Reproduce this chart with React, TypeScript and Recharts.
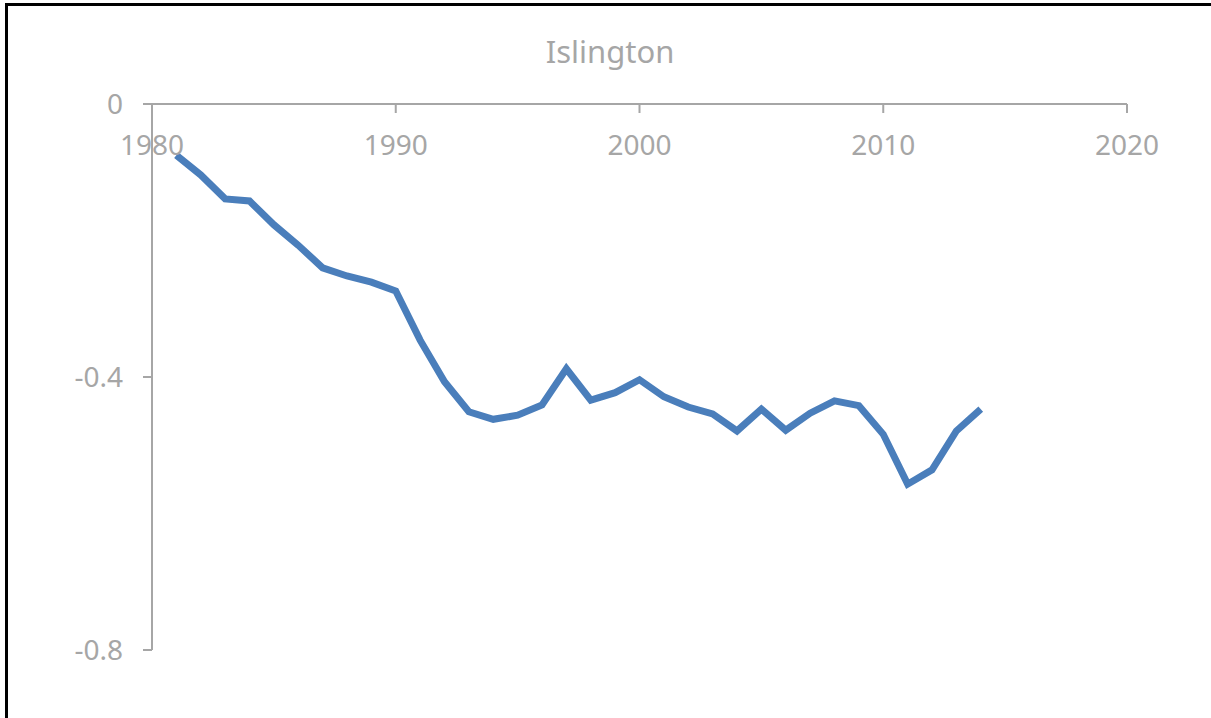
import { LineChart, Line, XAxis, YAxis } from 'recharts';

const years = [
  1981, 1982, 1983, 1984, 1985, 1986, 1987, 1988, 1989, 1990,
  1991, 1992, 1993, 1994, 1995, 1996, 1997, 1998, 1999, 2000,
  2001, 2002, 2003, 2004, 2005, 2006, 2007, 2008, 2009, 2010,
  2011, 2012, 2013, 2014,
];
const islington = [
  -0.075, -0.104, -0.139, -0.142, -0.177, -0.207, -0.24, -0.252, -0.261, -0.274,
  -0.346, -0.407, -0.451, -0.462, -0.456, -0.441, -0.388, -0.434, -0.423, -0.404,
  -0.429, -0.444, -0.454, -0.479, -0.447, -0.478, -0.453, -0.435, -0.442, -0.484,
  -0.557, -0.536, -0.479, -0.447,
];
const xTicks = [1980, 1990, 2000, 2010, 2020];
const yTicks = [0, -0.4, -0.8];

const data = years.map((year, i) => ({ year, value: islington[i] }));

const grey = '#a6a6a6';
const font = '"Noto Sans", "Open Sans", sans-serif';

export default function App() {
  return (
    <div style={{ position: 'fixed', left: 0, top: 0, width: 1211, height: 718, overflow: 'hidden', background: '#fff' }}>
      <div style={{ position: 'absolute', left: 5, top: 3, width: 1300, height: 800, border: '3px solid #000', boxSizing: 'border-box' }} />
      <div style={{ position: 'absolute', left: 0, top: 30, width: 1220, textAlign: 'center', fontFamily: font, fontSize: 31, color: grey }}>
        Islington
      </div>
      <div style={{ position: 'absolute', left: 0, top: 0 }}>
        <LineChart width={1211} height={718} data={data} margin={{ top: 104, right: 84, left: 72, bottom: 68 }}>
          <XAxis
            dataKey="year"
            type="number"
            domain={[1980, 2020]}
            ticks={xTicks}
            orientation="top"
            mirror
            height={1}
            stroke={grey}
            strokeWidth={2}
            tickSize={9}
            tickMargin={22}
            tick={{ fill: grey, fontSize: 28, fontFamily: font }}
          />
          <YAxis
            type="number"
            domain={[-0.8, 0]}
            ticks={yTicks}
            width={80}
            stroke={grey}
            strokeWidth={2}
            tickSize={9}
            tickMargin={20}
            tickFormatter={(v: number) => String(v)}
            tick={{ fill: grey, fontSize: 28, fontFamily: font }}
          />
          <Line
            dataKey="value"
            stroke="#4a7ebb"
            strokeWidth={7}
            dot={false}
            isAnimationActive={false}
          />
        </LineChart>
      </div>
    </div>
  );
}
